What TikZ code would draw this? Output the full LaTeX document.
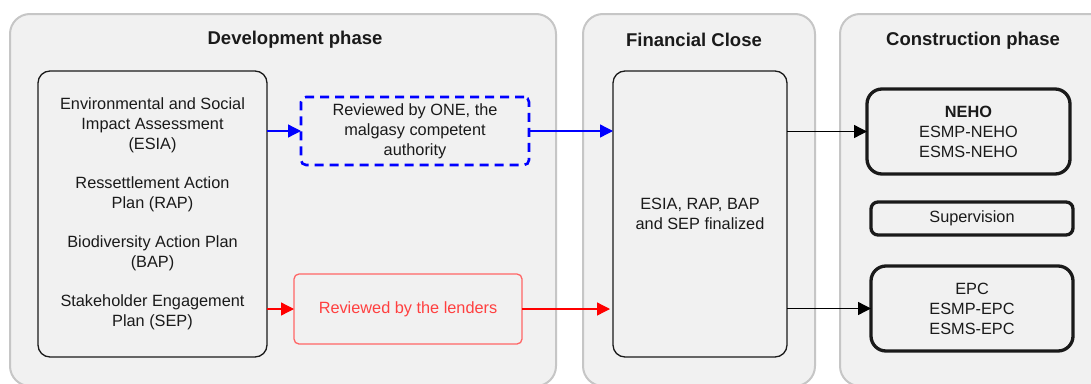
\documentclass[tikz,border=0pt]{standalone}
\usepackage{fontspec}
\setmainfont{Liberation Sans}
\usetikzlibrary{arrows.meta}
\definecolor{panelfill}{HTML}{F1F1F1}
\definecolor{paneledge}{HTML}{C6C6C6}
\definecolor{ink}{HTML}{1A1A1A}
\definecolor{revblue}{HTML}{0000FF}
\definecolor{revred}{HTML}{FF0000}
\definecolor{redtext}{HTML}{FF4040}
\definecolor{rededge}{HTML}{FF6666}
\begin{document}
\begin{tikzpicture}[x=1pt,y=-1pt,
  every node/.style={inner sep=0pt,outer sep=0pt,text=ink,align=center,font=\fontsize{16.3}{20}\selectfont},
  panel/.style={draw=paneledge,line width=2pt,fill=panelfill,rounded corners=20pt},
  paneltitle/.style={font=\fontsize{18.5}{22}\selectfont\bfseries},
  docbox/.style={draw=ink,line width=1.3pt,rounded corners=12pt},
  onebox/.style={draw=revblue,line width=2.6pt,dash pattern=on 9pt off 6pt,rounded corners=5pt},
  lendbox/.style={draw=rededge,line width=1.3pt,rounded corners=5pt,text=redtext},
  actorbox/.style={draw=ink,line width=3.3pt,rounded corners=15pt},
  supbox/.style={draw=ink,line width=3.3pt,rounded corners=7pt},
  flow/.style={line width=1.3pt,-{Triangle[length=13pt,width=13pt]}},
]
\useasboundingbox (0,0) rectangle (1091,383);
\fill[white] (0,0) rectangle (1091,383);

% phase panels
\draw[panel] (10,14) rectangle (556,386);
\draw[panel] (583,14) rectangle (815,386);
\draw[panel] (840,14) rectangle (1110,386);
\node[paneltitle] (tdev) at (295,40) {Development phase};
\node[paneltitle] (tfin) at (694,40) {Financial Close};
\node[paneltitle] (tcon) at (973,41) {Construction phase};

% development phase
\node[docbox,minimum width=229pt,minimum height=286pt] (docs) at (152.5,214) {};
\node (esia) at (152.5,125) {Environmental and Social\\Impact Assessment\\(ESIA)};
\node (rap) at (152.5,194) {Ressettlement Action\\Plan (RAP)};
\node (bap) at (152.5,253) {Biodiversity Action Plan\\(BAP)};
\node (sep) at (152.5,312) {Stakeholder Engagement\\Plan (SEP)};
\node[onebox,minimum width=228pt,minimum height=68pt] (one) at (415,131) {Reviewed by ONE, the\\malgasy competent\\authority};
\node[lendbox,minimum width=228pt,minimum height=70pt] (lend) at (408,309) {Reviewed by the lenders};

% financial close
\node[docbox,minimum width=174pt,minimum height=286pt] (fin) at (700,214) {ESIA, RAP, BAP\\and SEP finalized};

% construction phase
\node[actorbox,minimum width=203pt,minimum height=85pt] (neho) at (968.5,131.5) {\textbf{NEHO}\\ESMP-NEHO\\ESMS-NEHO};
\node[supbox,minimum width=202pt,minimum height=33pt] (sup) at (972,218.5) {Supervision};
\node[actorbox,minimum width=202pt,minimum height=85pt] (epc) at (972,308.5) {EPC\\ESMP-EPC\\ESMS-EPC};

% review flows
\draw[flow,draw=revblue,fill=revblue] (docs.east |- one.west) -- (one.west);
\draw[flow,draw=revblue,fill=revblue] (one.east) -- (fin.west |- one.east);
\draw[flow,draw=revred,fill=revred] (docs.east |- lend.west) -- (lend.west);
\draw[flow,draw=revred,fill=revred] (lend.east) -- ([xshift=-3pt]fin.west |- lend.east);

% hand-over to construction
\draw[flow,draw=black,fill=black] (fin.east |- neho.west) -- (neho.west);
\draw[flow,draw=black,fill=black] (fin.east |- epc.west) -- (epc.west);
\end{tikzpicture}
\end{document}
